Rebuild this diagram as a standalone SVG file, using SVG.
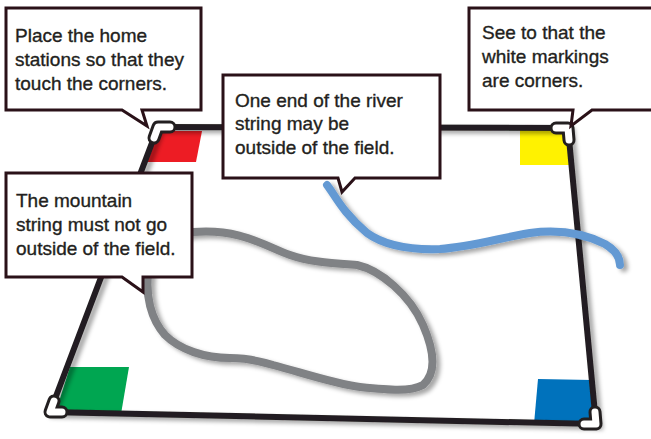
<svg xmlns="http://www.w3.org/2000/svg" width="651" height="439" viewBox="0 0 651 439">
<style>
.field{fill:none;stroke:#231f20;stroke-width:6;stroke-linejoin:miter}
.cb{fill:none;stroke:#231f20;stroke-width:13;stroke-linecap:round;stroke-linejoin:round}
.cw{fill:none;stroke:#ffffff;stroke-width:7;stroke-linecap:round;stroke-linejoin:round}
.box{fill:#ffffff;stroke:#2a1118;stroke-width:3;stroke-linejoin:miter}
.t{font-family:"Liberation Sans",Arial,sans-serif;font-size:19px;fill:#231f20;stroke:#231f20;stroke-width:0.35}
.str{fill:none;stroke-width:8;stroke-linecap:round;stroke-linejoin:round}
</style>
<defs>
<filter id="sh" x="-10%" y="-10%" width="130%" height="130%">
<feDropShadow dx="4" dy="3" stdDeviation="2" flood-color="#000" flood-opacity="0.35"/>
</filter>
</defs>
<rect width="651" height="439" fill="#ffffff"/>
<g id="field">
<polygon points="155,131 202,131 196,162 145,162" fill="#ed1c24"/>
<polygon points="520,130 566,130 569,165 520,165" fill="#fff200"/>
<polygon points="70,367 129,367 121,414 55,414" fill="#00a651"/>
<polygon points="538,379 592,380 594,424 534,424" fill="#0072bc"/>
<polygon class="field" filter="url(#sh)" points="158,127 568,128 596,424 50,412"/>
</g>
<g id="mountain-string">
<path class="str" stroke="#808285" filter="url(#sh)" d="M193,232 C240,228 265,246 290,255 C310,262 330,263 357,265 C380,270 410,295 423,325 C433,348 438,372 423,385 C410,392 390,390 360,387 C335,384 300,372 273,365 C260,361 245,358 230,358 C205,358 180,350 165,335 C150,318 146,295 148,275 C150,255 160,236 193,232 Z"/>
</g>
<g id="river-string">
<path class="str" stroke="#6399d3" filter="url(#sh)" d="M327,185 C335,195 342,212 367,233 C385,246 410,250 440,249 C470,247 500,238 530,233 C560,229 585,234 605,244 C615,250 620,258 620,265"/>
</g>
<g id="corners">
<polyline class="cb" points="170,127 158,127 154,138"/>
<polyline class="cw" points="170,127 158,127 154,138"/>
<polyline class="cb" points="556,128 568,128 569,140"/>
<polyline class="cw" points="556,128 568,128 569,140"/>
<polyline class="cb" points="595,412 596,424 584,424"/>
<polyline class="cw" points="595,412 596,424 584,424"/>
<polyline class="cb" points="54,401 50,412 62,412"/>
<polyline class="cw" points="54,401 50,412 62,412"/>
</g>
<g id="callout-home">
<path class="box" d="M6,8 H201 V110 H142 L147,126 L122,110 H6 Z"/>
<text class="t" x="15" y="42">Place the home</text>
<text class="t" x="15" y="66">stations so that they</text>
<text class="t" x="15" y="90">touch the corners.</text>
</g>
<g id="callout-markings">
<path class="box" d="M469,8 H653 V110 H592 L571,126 L573,110 H469 Z"/>
<text class="t" x="482" y="39">See to that the</text>
<text class="t" x="482" y="63">white markings</text>
<text class="t" x="482" y="87">are corners.</text>
</g>
<g id="callout-river">
<path class="box" d="M223,75 H440 V178 H355 L342,192 L338,178 H223 Z"/>
<text class="t" x="235" y="107">One end of the river</text>
<text class="t" x="235" y="130">string may be</text>
<text class="t" x="235" y="154">outside of the field.</text>
</g>
<g id="callout-mountain">
<path class="box" d="M6,173 H192 V277 H143 V292 L122,277 H6 Z"/>
<text class="t" x="16" y="207">The mountain</text>
<text class="t" x="16" y="231">string must not go</text>
<text class="t" x="16" y="255">outside of the field.</text>
</g>
</svg>
